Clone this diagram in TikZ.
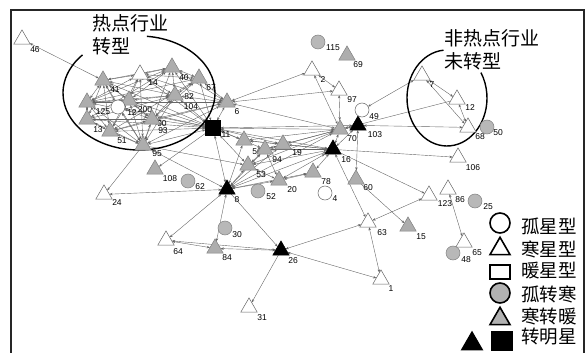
\documentclass[tikz,border=0pt]{standalone}
\usepackage{fontspec}
\setmainfont{Liberation Sans}
\newfontfamily\cjk{Noto Sans CJK SC}
\usetikzlibrary{shapes.geometric,arrows.meta}
\pgfdeclarelayer{bg}
\pgfsetlayers{bg,main}
\begin{document}
\begin{tikzpicture}[x=1pt,y=-1pt,
  base/.style={inner sep=0pt,outer sep=0pt},
  wtri/.style={base,regular polygon,regular polygon sides=3,minimum size=19pt,yshift=-2.4pt,draw=black!60,fill=white,line width=0.5pt},
  gtri/.style={wtri,fill=black!32,draw=black!50},
  btri/.style={wtri,fill=black,draw=black},
  wcir/.style={base,circle,minimum size=14pt,draw=black!60,fill=white,line width=0.5pt},
  gcir/.style={wcir,fill=black!28,draw=black!50},
  bsq/.style={base,rectangle,minimum size=15pt,fill=black,draw=black},
  lab/.style={font=\fontsize{8.5}{9}\selectfont,inner sep=0pt},
  e/.style={draw=black!60,line width=0.4pt,{Stealth[length=3.2pt,width=2.4pt]}-{Stealth[length=3.2pt,width=2.4pt]}},
  d/.style={draw=black!60,line width=0.4pt,-{Stealth[length=3.2pt,width=2.4pt]}},
  big/.style={font=\cjk\fontsize{19}{23}\selectfont,inner sep=0pt,align=left},
  leg/.style={font=\cjk\fontsize{18.5}{20}\selectfont,inner sep=0pt,anchor=west},
  lw/.style={line width=1.6pt,draw=black},
]
\useasboundingbox (0,0) rectangle (587,353);
\draw[line width=1.3pt,black!85] (11,353) -- (11,10) -- (584,10) -- (584,353);

% titles
\node[big,anchor=north west] (t1) at (92,14) {热点行业\\转型};
\node[big,anchor=north west] (t2) at (444,29) {非热点行业\\未转型};
\draw[line width=1.4pt] (139,93) ++(-84:76 and 57) arc[start angle=-84,end angle=222,x radius=76,y radius=57];
\draw[line width=1.4pt] (447,98) ++(265:40 and 48) arc[start angle=265,end angle=-32,x radius=40,y radius=48];

% labels
\foreach \t/\x/\y in {46/35/50,41/115/90,14/153/83,40/184/78,67/211/88,82/189/97,104/191/107,125/103/112,12/132/113,200/145/110,13/98/130,51/122/141,93/163/131,90/162/124,95/157/154,6/237/112,11/226/135,108/170/179,56/257/152,94/277/160,19/297/153,53/261/175,20/292/190,78/326/182,4/335/199,52/271/197,8/237/200,62/200/187,24/117/203,30/237/235,64/178/252,84/227/258,26/293/261,31/262/318,115/333/48,69/358/65,2/323/80,97/352/100,49/374/117,103/375/135,70/352/139,16/346/160,60/368/188,63/382/233,15/421/237,123/445/204,86/460/200,25/488/207,65/477/253,48/466/260,1/391/289,7/432/85,106/473/168,68/480/137,50/498/133}
  \node[lab] (lab\t-\x) at (\x,\y) {\t};
\node[lab] (lab12r) at (470,108) {12};

% nodes
\node[wtri] (n46) at (22,37) {};
\node[gtri] (c41) at (103,78) {};
\node[wtri] (c14) at (140,72) {};
\node[gtri] (c40) at (172,65) {};
\node[gtri] (c67) at (199,76) {};
\node[gtri] (c125) at (87,100) {};
\node[gtri] (c200) at (129,98) {};
\node[gtri] (c104) at (175,93) {};
\node[gtri] (c13) at (87,117) {};
\node[gtri] (c51) at (110,129) {};
\node[gtri] (c90) at (152,117) {};
\node[gtri] (c95) at (143,143) {};
\node[wcir] (c12) at (118,107) {};
\node[gtri] (n6) at (227,100) {};
\node[bsq] (n11) at (213,128) {};
\node[gtri] (n108) at (155,167) {};
\node[gtri] (n56) at (244,138) {};
\node[gtri] (n94) at (265,147) {};
\node[gtri] (n19) at (283,142) {};
\node[gtri] (n53) at (248,163) {};
\node[gtri] (n20) at (279,178) {};
\node[gtri] (n78) at (313,170) {};
\node[btri] (n8) at (227,187) {};
\node[wtri] (n24) at (104,192) {};
\node[wtri] (n64) at (166,238) {};
\node[gtri] (n84) at (215,246) {};
\node[btri] (n26) at (281,248) {};
\node[wtri] (n31) at (249,305) {};
\node[gtri] (n69) at (347,53) {};
\node[wtri] (n2) at (312,68) {};
\node[wtri] (n97) at (339,88) {};
\node[btri] (n103) at (358,123) {};
\node[gtri] (n70) at (340,127) {};
\node[btri] (n16) at (333,147) {};
\node[gtri] (n60) at (356,177) {};
\node[wtri] (n63) at (368,220) {};
\node[gtri] (n15) at (408,224) {};
\node[wtri] (n123) at (429,193) {};
\node[wtri] (n86) at (448,187) {};
\node[wtri] (n65) at (464,240) {};
\node[wtri] (n1) at (381,277) {};
\node[wtri] (n7) at (422,73) {};
\node[wtri] (n12r) at (457,97) {};
\node[wtri] (n68) at (468,125) {};
\node[wtri] (n106) at (458,155) {};
\node[gcir] (n62) at (188,181) {};
\node[gcir] (n52) at (258,191) {};
\node[wcir] (n4) at (325,193) {};
\node[gcir] (n30) at (225,228) {};
\node[gcir] (n115) at (318,42) {};
\node[wcir] (n49) at (362,110) {};
\node[gcir] (n25) at (475,201) {};
\node[gcir] (n48) at (453,253) {};
\node[gcir] (n50) at (487,127) {};

% edges
\begin{pgfonlayer}{bg}
\foreach \a/\b in {c41/c14,c41/c40,c41/c125,c41/c200,c41/c13,c41/c51,c41/c95,c41/c12,c41/c104,c41/c90,c41/n11,
  c14/c40,c14/c67,c14/c200,c14/c125,c14/c51,c14/c95,c14/c104,c14/n11,c14/n6,
  c40/c67,c40/c104,c40/c200,c40/c125,c40/c13,c40/c95,c40/n6,c40/n11,
  c67/c104,c67/n6,c67/n11,c67/c125,c67/c90,c67/c51,
  c125/c13,c125/c51,c125/c200,c125/c104,c125/c95,c125/n6,c125/n11,
  c200/c104,c200/c90,c200/c95,c200/c51,c200/n11,
  c104/c90,c104/c95,c104/n6,c104/n11,c104/c13,
  c12/c95,c12/c90,c12/n11,c13/c51,c13/c95,c13/n11,c13/c90,
  c51/c95,c51/c90,c51/n11,c51/n6,c90/c95,c90/n11,c90/n6,c95/n11,c95/n6,n6/n11,
  n11/n56,n11/n94,n11/n19,n11/n53,n11/n70,n11/n16,n11/n8,n11/n103,
  n8/n53,n8/n94,n8/n19,n8/n20,n8/n78,n8/n16,n8/n70,n8/n56,
  n16/n56,n16/n94,n16/n19,n16/n53,n16/n20,n16/n78,n16/n70,
  n70/n56,n70/n19,n70/n94,n70/n53,n56/n19,n94/n19,n53/n94,n53/n20,n20/n78,n94/n20,
  n103/n70,n103/n16,n103/n68,n49/n7,n7/n12r,n7/n68,n12r/n68,n103/n60,
  n6/n2,n6/n97,n6/n70,n2/n97,n2/n70,n97/n70,
  n16/n63,n63/n123,n63/n26,n63/n1,n26/n1,n86/n65,
  n8/n64,n84/n8,n64/n84,n84/n26,n64/n26,n8/n24,c95/n8,n46/c41}
  \draw[e] (\a) -- (\b);
\foreach \a/\b in {n16/n106,n16/n123,n60/n15,n8/n26,n26/n31,c95/n24,c95/n53,n11/n108,n12r/n70}
  \draw[d] (\a) -- (\b);
\end{pgfonlayer}

% legend
\node[base,circle,minimum size=20pt,lw,fill=white] (g1) at (500,223) {};
\node[base,regular polygon,regular polygon sides=3,minimum size=23pt,yshift=-2.8pt,lw,fill=white] (g2) at (500,246) {};
\node[base,rectangle,minimum width=20pt,minimum height=14pt,lw,fill=white] (g3) at (500,272) {};
\node[base,circle,minimum size=20pt,lw,fill=black!30] (g4) at (500,293) {};
\node[base,regular polygon,regular polygon sides=3,minimum size=23pt,yshift=-2.8pt,lw,fill=black!30] (g5) at (500,316) {};
\node[base,regular polygon,regular polygon sides=3,minimum size=23pt,yshift=-2.8pt,lw,fill=black] (g6) at (472,341) {};
\node[base,rectangle,minimum width=20pt,minimum height=18pt,lw,fill=black] (g7) at (502,341) {};
\node[leg] (k1) at (521,226) {孤星型};
\node[leg] (k2) at (521,249) {寒星型};
\node[leg] (k3) at (521,271) {暖星型};
\node[leg] (k4) at (521,294) {孤转寒};
\node[leg] (k5) at (521,316) {寒转暖};
\node[leg] (k6) at (521,337) {转明星};
\end{tikzpicture}
\end{document}
